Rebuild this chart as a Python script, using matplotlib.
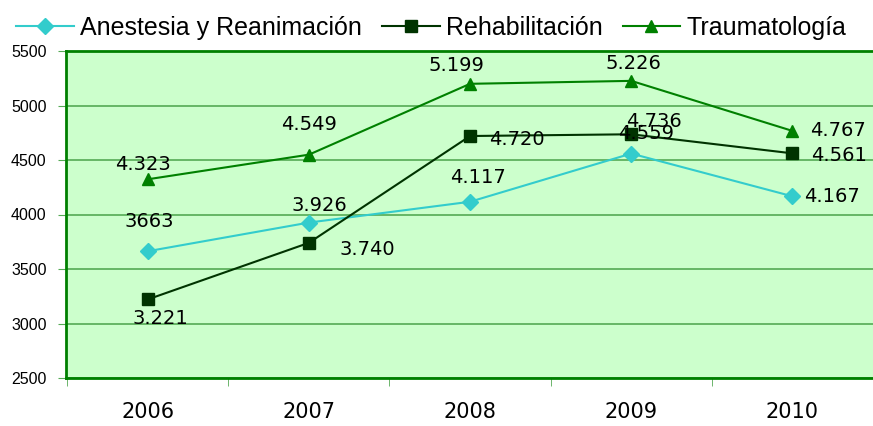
import matplotlib
matplotlib.use("Agg")
import matplotlib.pyplot as plt

# --- data ---
years = ["2006", "2007", "2008", "2009", "2010"]
anestesia = [3663, 3926, 4117, 4559, 4167]
rehab = [3221, 3740, 4720, 4736, 4561]
trauma = [4323, 4549, 5199, 5226, 4767]

anestesia_lbl = ["3663", "3.926", "4.117", "4.559", "4.167"]
rehab_lbl = ["3.221", "3.740", "4.720", "4.736", "4.561"]
trauma_lbl = ["4.323", "4.549", "5.199", "5.226", "4.767"]

# label offsets in pixels (dx, dy, horizontal alignment)
anestesia_off = [(2, 30, "center"), (10, 17, "center"), (8, 24, "center"),
                 (15, 20, "center"), (12, 0, "left")]
rehab_off = [(13, -19, "center"), (58, -7, "center"), (19, -3, "left"),
             (23, 13, "center"), (19, -2, "left")]
trauma_off = [(-5, 15, "center"), (0, 30, "center"), (-14, 18, "center"),
              (2, 17, "center"), (18, 0, "left")]

c_anes = "#33CCCC"
c_reha = "#003300"
c_trau = "#008000"

fig = plt.figure(figsize=(8.73, 4.26), dpi=100)
ax = fig.add_axes([66 / 873, 48 / 426, 1 - 66 / 873, 327 / 426])
ax.set_facecolor("#CCFFCC")

x = list(range(len(years)))
ax.plot(x, anestesia, color=c_anes, marker="D", markersize=8, lw=1.5,
        label="Anestesia y Reanimación", zorder=3)
ax.plot(x, rehab, color=c_reha, marker="s", markersize=8, lw=1.5,
        label="Rehabilitación", zorder=3)
ax.plot(x, trauma, color=c_trau, marker="^", markersize=9, lw=1.5,
        label="Traumatología", zorder=3)

for vals, lbls, offs in [(anestesia, anestesia_lbl, anestesia_off),
                         (rehab, rehab_lbl, rehab_off),
                         (trauma, trauma_lbl, trauma_off)]:
    for i, (v, t, (dx, dy, ha)) in enumerate(zip(vals, lbls, offs)):
        ax.annotate(t, (i, v), xytext=(dx, dy), textcoords="offset pixels",
                    ha=ha, va="center", fontsize=14, color="black", zorder=4)

ax.set_ylim(2500, 5500)
ax.set_yticks(range(2500, 5501, 500))
ax.set_xlim(-0.507, 4.482)
ax.set_xticks(x)
ax.set_xticklabels(years, fontsize=15)
ax.set_xticks([i - 0.5 for i in range(len(years) + 1)], minor=True)
ax.tick_params(axis="x", which="major", length=0, pad=17)
ax.tick_params(axis="x", which="minor", length=6, color="#55AA55")
ax.tick_params(axis="y", length=6, color="#55AA55", pad=8)
for lab in ax.get_yticklabels():
    lab.set_fontfamily("Liberation Sans")
    lab.set_fontsize(11.5)

ax.grid(axis="y", color="#55AA55", lw=1.2)
ax.set_axisbelow(True)
for s in ["left", "bottom", "top"]:
    ax.spines[s].set_color("#008000")
    ax.spines[s].set_linewidth(2)
ax.spines["right"].set_visible(False)

fig.legend(loc="center", bbox_to_anchor=(0.494, 1 - 28 / 426), ncol=3,
           frameon=False, handlelength=2.3, handletextpad=0.25,
           columnspacing=0.8, prop={"family": "Liberation Sans", "size": 18})

fig.savefig("out.png", dpi=100)
